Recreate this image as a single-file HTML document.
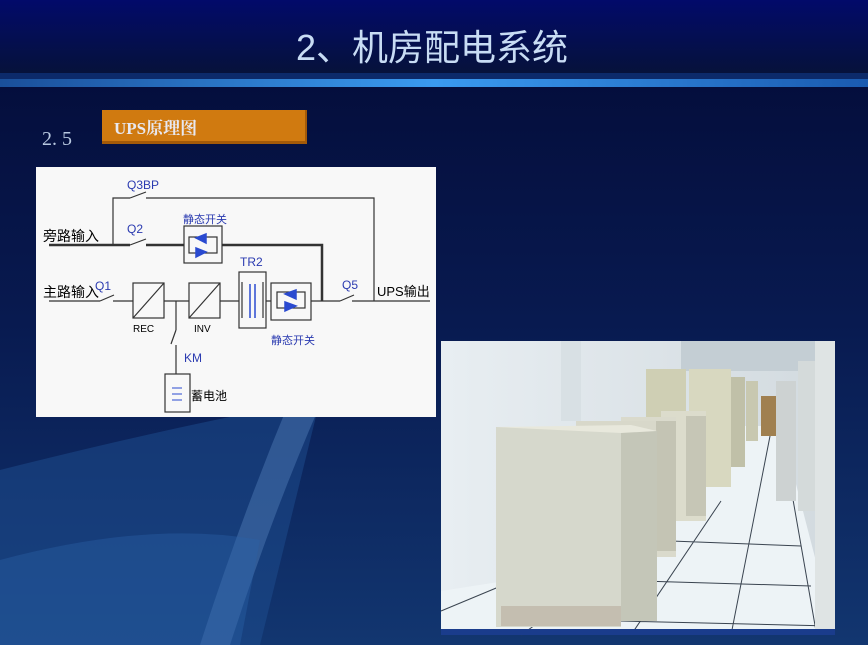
<!DOCTYPE html>
<html><head><meta charset="utf-8"><style>
html,body{margin:0;width:868px;height:645px;overflow:hidden;background:#06123a;font-family:"Liberation Sans","Noto Sans CJK SC",sans-serif}
svg{display:block}
</style></head><body>
<svg width="868" height="645" viewBox="0 0 868 645" xmlns="http://www.w3.org/2000/svg" font-family="Liberation Sans, Noto Sans CJK SC, sans-serif">
<defs>
<linearGradient id="hd" x1="0" y1="0" x2="0" y2="1"><stop offset="0" stop-color="#020a6a"/><stop offset="1" stop-color="#06123a"/></linearGradient>
<linearGradient id="bar" x1="0" y1="0" x2="1" y2="0"><stop offset="0" stop-color="#1a4f9a"/><stop offset="0.5" stop-color="#3a9af0"/><stop offset="1" stop-color="#1a5ab0"/></linearGradient>
<linearGradient id="bg" x1="0" y1="0" x2="0" y2="1"><stop offset="0" stop-color="#030a36"/><stop offset="0.5" stop-color="#081a50"/><stop offset="1" stop-color="#123670"/></linearGradient>
<linearGradient id="wall" x1="0" y1="0" x2="1" y2="0"><stop offset="0" stop-color="#e8eef2"/><stop offset="1" stop-color="#d2dadf"/></linearGradient>
</defs>
<rect width="868" height="645" fill="url(#bg)"/>
<path d="M0 470 Q200 420 320 400 L260 645 L0 645Z" fill="#1e4d90" opacity="0.5"/>
<path d="M290 400 Q240 520 200 645 L230 645 Q270 520 320 405Z" fill="#5a86c0" opacity="0.4"/>
<path d="M0 560 Q150 520 260 540 L240 645 L0 645Z" fill="#2a62a8" opacity="0.4"/>
<rect width="868" height="74" fill="url(#hd)"/>
<rect y="73" width="868" height="6" fill="#0c2a6a"/>
<rect y="79" width="868" height="8" fill="url(#bar)"/>
<text x="432" y="60" font-size="36" fill="#c8dcf4" text-anchor="middle" font-family="Liberation Sans, Noto Sans CJK SC, sans-serif">2、机房配电系统</text>
<text x="42" y="145" font-size="20" fill="#b8c8e0" font-family="Liberation Serif, serif">2. 5</text>
<rect x="102" y="110" width="205" height="34" fill="#a45a08"/>
<rect x="102" y="110" width="203" height="31" fill="#d07a10"/>
<text x="114" y="134" font-size="17" font-weight="bold" fill="#e8e8f0" font-family="Liberation Serif, Noto Serif CJK SC, serif">UPS原理图</text>

<rect x="36" y="167" width="400" height="250" fill="#f8f8f8"/>
<g stroke="#333" fill="none" stroke-width="1.2">
<path d="M113 245 V198 H130 M146 198 H374 V301"/>
<path d="M49 245 H130 M146 245 H184 M222 245 H322 V301" stroke-width="2.5"/>
<path d="M49 301 H100 M113 301 H133 M164 301 H189 M220 301 H239 M266 301 H271 M311 301 H340 M352 301 H430"/>
<path d="M130 198 l16 -6 M130 245 l16 -6 M100 301 l14 -6 M340 301 l14 -6"/>
<path d="M176 301 V330 M176 330 l-5 14 M176 345 V374"/>
<rect x="184" y="226" width="38" height="37"/><rect x="189" y="237" width="28" height="16"/>
<rect x="133" y="283" width="31" height="35"/><path d="M133 318 L164 283"/>
<rect x="189" y="283" width="31" height="35"/><path d="M189 318 L220 283"/>
<rect x="239" y="272" width="27" height="56"/><path d="M242 282 V318 M263 282 V318"/>
<rect x="271" y="283" width="40" height="37"/><rect x="277" y="292" width="28" height="16"/>
<rect x="165" y="374" width="25" height="38"/>
</g>
<g stroke="#2a4ad0" stroke-width="1.5" fill="#2a4ad0">
<path d="M196 238 L206 234 V243Z M206 252 L196 248 V257Z"/>
<path d="M285 294 L296 290 V299Z M296 306 L285 302 V311Z"/>
<path d="M250 284 V318 M255 284 V318" fill="none"/>
<path d="M172 388 H182 M172 394 H182 M172 400 H182" fill="none" stroke-width="1"/>
</g>
<g fill="#000" font-size="13">
<text x="43" y="241" font-size="14">旁路输入</text>
<text x="43" y="297" font-size="14">主路输入</text>
<text x="377" y="296" font-size="13">UPS输出</text>
<text x="133" y="332" font-size="10">REC</text>
<text x="194" y="332" font-size="10">INV</text>
</g>
<g fill="#2a3ab0" font-size="12">
<text x="127" y="189">Q3BP</text>
<text x="127" y="233">Q2</text>
<text x="95" y="290">Q1</text>
<text x="342" y="289">Q5</text>
<text x="240" y="266">TR2</text>
<text x="184" y="362">KM</text>
<text x="183" y="223" font-size="11">静态开关</text>
<text x="271" y="344" font-size="11">静态开关</text>
<text x="191" y="400" font-size="12" fill="#000">蓄电池</text>
</g>

<g transform="translate(441,341)">
<rect width="394" height="294" fill="url(#wall)"/>
<rect x="120" y="0" width="20" height="80" fill="#d8e0e4"/>
<rect x="240" y="0" width="154" height="30" fill="#c4ced4"/>
<path d="M0 250 L160 225 L300 85 L340 85 L394 294 L0 294Z" fill="#edf3f6"/>
<g stroke="#3a4450" stroke-width="1" fill="none">
<path d="M0 270 L60 245 M80 294 L170 230 M190 294 L280 160 M290 294 L330 90 M340 90 L375 290 M200 240 L370 245 M230 200 L360 205 M180 280 L390 285"/>
</g>
<rect x="205" y="28" width="40" height="48" fill="#cfcfb4"/>
<rect x="248" y="28" width="42" height="118" fill="#d8d8c0"/>
<rect x="290" y="36" width="14" height="90" fill="#c0c0a8"/>
<rect x="305" y="40" width="12" height="60" fill="#c8c8b0"/>
<rect x="320" y="55" width="15" height="40" fill="#a08050"/>
<rect x="335" y="40" width="20" height="120" fill="#cdd2d2"/>
<rect x="357" y="20" width="17" height="150" fill="#d4dada"/>
<rect x="374" y="0" width="20" height="294" fill="#dfe4e4"/>
<rect x="220" y="70" width="45" height="110" fill="#dcdccc"/>
<rect x="245" y="75" width="20" height="100" fill="#c6c6b6"/>
<rect x="180" y="76" width="55" height="140" fill="#dadacc"/>
<rect x="215" y="80" width="20" height="130" fill="#c4c4b4"/>
<rect x="135" y="80" width="80" height="140" fill="#d8d8ca"/>
<rect x="55" y="86" width="125" height="200" fill="#d6d8cc"/>
<rect x="180" y="90" width="36" height="190" fill="#c4c6b8"/>
<path d="M55 86 L190 84 L216 90 L180 92Z" fill="#e8e8dc"/>
<rect x="60" y="265" width="120" height="20" fill="#9a8070" opacity="0.3"/>
<rect x="0" y="288" width="394" height="6" fill="#1a3c8c"/>
</g>
</svg>
</body></html>
